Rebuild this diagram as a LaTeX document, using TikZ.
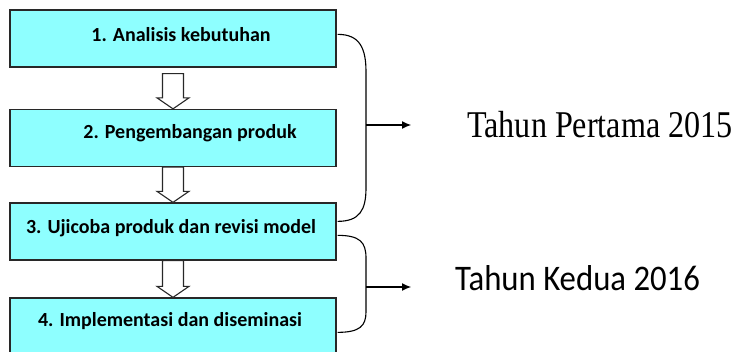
\documentclass[tikz,border=0pt]{standalone}
\usepackage{fontspec}
\setmainfont{Carlito}
\newfontfamily\serifT{Liberation Serif}
\usetikzlibrary{arrows.meta,calc}
\definecolor{boxcyan}{RGB}{142,255,255}
\definecolor{boxline}{RGB}{40,40,40}
\tikzset{
  stepbox/.style={draw=boxline,line width=1.3pt,fill=boxcyan,minimum width=326pt,minimum height=57pt,inner sep=0pt},
  boxtext/.style={anchor=base,inner sep=0pt,font=\fontsize{20}{24}\selectfont\bfseries},
  hollow/.style={draw=boxline,line width=1.1pt,fill=white},
  bracket/.style={draw=black,line width=1.1pt},
  yeararrow/.style={draw=black,line width=1.1pt,-{Latex[length=9pt,width=8pt]}},
}
\begin{document}
\begin{tikzpicture}[x=1pt,y=-1pt]
\useasboundingbox (0,0) rectangle (742,351);
\fill[white] (0,0) rectangle (742,351);
\clip (0,0) rectangle (742,351);
% boxes
\node[stepbox] (b1) at (173,38.5) {};
\node[stepbox] (b2) at (173,138) {};
\node[stepbox] (b3) at (173,231.5) {};
\node[stepbox] (b4) at (173,326.5) {};
% texts
\node[boxtext] (t1) at (181,41) {1. Analisis kebutuhan};
\node[boxtext] (t2) at (190,138) {2. Pengembangan produk};
\node[boxtext] (t3) at (171,233) {3. Ujicoba produk dan revisi model};
\node[boxtext] (t4) at (170,326) {4. Implementasi dan diseminasi};
% hollow arrows
\foreach \a/\b/\g in {b1/b2/6,b2/b3/0,b3/b4/0}{
  \path let \p1=(\a.south), \p2=(\b.north) in
    coordinate (s) at (\x1,\y1)
    coordinate (e) at (\x2,\y2);
  \draw[hollow] ($(s)+(-10.5,\g)$) -- ($(e)+(-10.5,-11)$) -- ($(e)+(-16,-11)$) -- (e)
     -- ($(e)+(16,-11)$) -- ($(e)+(10.5,-11)$) -- ($(s)+(10.5,\g)$) -- cycle;
}
% brackets
\coordinate (br1top) at ($(b1.north east)+(1,25)$);
\coordinate (br1bot) at ($(b3.north east)+(1,19)$);
\coordinate (br2top) at ($(b3.north east)+(1,33)$);
\coordinate (br2bot) at ($(b4.north east)+(1,35)$);
\coordinate (m1) at (366,125);
\coordinate (m2) at (366,287);
\coordinate (a1) at (411,125);
\coordinate (a2) at (411,287);
\draw[bracket] (br1top) .. controls ++(22,0) and (366,48) .. (366,72)
  -- (366,188) .. controls (366,210) and ($(br1bot)+(22,0)$) .. (br1bot);
\draw[bracket] (br2top) .. controls ++(22,0) and (366,242) .. (366,258)
  -- (366,312) .. controls (366,326) and ($(br2bot)+(22,0)$) .. (br2bot);
\draw[yeararrow] (m1) -- (a1);
\draw[yeararrow] (m2) -- (a2);
% year labels
\node[anchor=base west,inner sep=0pt] (y1) at (467,137)
  {\scalebox{0.85}[1]{\serifT\fontsize{37.8}{40}\selectfont Tahun Pertama 2015}};
\node[anchor=base west,inner sep=0pt] (y2) at (455,290)
  {\scalebox{0.91}[1]{\fontsize{36}{40}\selectfont Tahun Kedua 2016}};
\end{tikzpicture}
\end{document}
